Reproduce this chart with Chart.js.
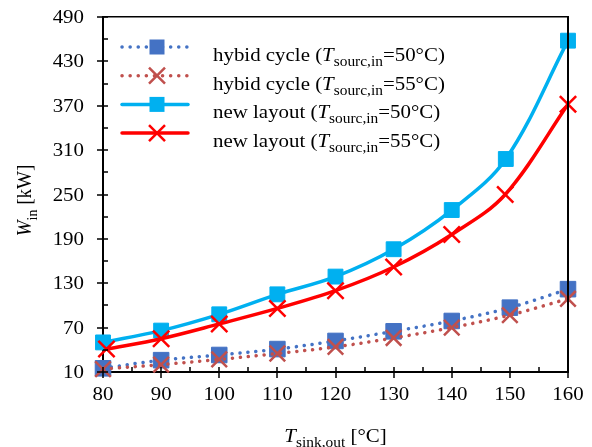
<!DOCTYPE html>
<html>
<head>
<meta charset="utf-8">
<script src="https://cdn.jsdelivr.net/npm/chart.js@4.4.0/dist/chart.umd.min.js"></script>
<style>
  html, body { margin: 0; padding: 0; background: #fff; }
  #wrap { width: 592px; height: 447px; }
</style>
</head>
<body>
<div id="wrap"><canvas id="chart"></canvas></div>
<script>
// data
const sinkTemps = [80, 90, 100, 110, 120, 130, 140, 150, 160];
const newTemps50 = [80, 90, 100, 110, 120, 130, 140, 149.3, 160];
const newTemps55 = [80.6, 90, 100, 110, 120, 130, 140, 149.2, 160];
const hybid50 = [15, 26, 33, 41, 52, 65, 79, 97, 122];
const hybid55 = [14, 20, 27, 35, 44, 56, 70, 87, 109];
const newLayout50 = [50, 66, 88, 115, 139, 176, 229, 298, 458];
const newLayout55 = [41, 55, 75, 96, 120, 152, 196, 250, 372];
const xTicks = [80, 90, 100, 110, 120, 130, 140, 150, 160];
const yTicks = [10, 70, 130, 190, 250, 310, 370, 430, 490];
const legendLabels = ['hybid cycle (', 'hybid cycle (', 'new layout (', 'new layout ('];
const legendTemps = ['=50°C)', '=55°C)', '=50°C)', '=55°C)'];

const FONT = '"Liberation Serif", "Times New Roman", serif';
const SIZE = 19, SUB = 14, SX = 1.1;

function pts(xs, ys) {
  return xs.map((x, i) => ({ x: x, y: ys[i] }));
}

function fontOf(p) {
  return (p.it ? 'italic ' : '') + (p.sub ? SUB : SIZE) + 'px ' + FONT;
}

// text with italic / subscript pieces, a bit wider than tall like the original
function drawRich(ctx, parts, x, y, align, rotate) {
  ctx.save();
  ctx.translate(x, y);
  if (rotate) { ctx.rotate(-Math.PI / 2); ctx.scale(1, SX); }
  else ctx.scale(SX, 1);
  let w = 0;
  parts.forEach(p => { ctx.font = fontOf(p); w += ctx.measureText(p.t).width; });
  let cx = align === 'center' ? -w / 2 : (align === 'right' ? -w : 0);
  ctx.fillStyle = '#000';
  ctx.textBaseline = 'alphabetic';
  ctx.textAlign = 'left';
  parts.forEach(p => {
    ctx.font = fontOf(p);
    ctx.fillText(p.t, cx, p.sub ? 5 : 0);
    cx += ctx.measureText(p.t).width;
  });
  ctx.restore();
}

function marker(ctx, style, x, y, color) {
  ctx.save();
  ctx.setLineDash([]);
  if (style === 'rect') {
    ctx.fillStyle = color;
    ctx.fillRect(x - 7.5, y - 7.5, 15, 15);
  } else {
    ctx.strokeStyle = color;
    ctx.lineWidth = 2.5;
    ctx.beginPath();
    ctx.moveTo(x - 8, y - 8); ctx.lineTo(x + 8, y + 8);
    ctx.moveTo(x + 8, y - 8); ctx.lineTo(x - 8, y + 8);
    ctx.stroke();
  }
  ctx.restore();
}

const decor = {
  id: 'decor',
  afterDraw(chart) {
    const ctx = chart.ctx;
    const a = chart.chartArea;
    const xs = chart.scales.x, ys = chart.scales.y;
    ctx.save();
    ctx.fillStyle = '#000';
    // top and right edges of the box
    ctx.fillRect(a.left, a.top - 1, a.right - a.left + 1, 1.5);
    ctx.fillRect(a.right - 1, a.top - 1, 2, a.bottom - a.top + 1);
    // major ticks cross the axis, minor ticks sit inside
    xTicks.forEach((v, i) => {
      const px = Math.round(xs.getPixelForValue(v));
      ctx.fillRect(px - 0.75, a.bottom - 5, 1.5, 11);
      if (i < xTicks.length - 1) {
        const mx = Math.round(xs.getPixelForValue(v + 5));
        ctx.fillRect(mx - 0.75, a.bottom - 5, 1.5, 5);
      }
    });
    yTicks.forEach((v, i) => {
      const py = Math.round(ys.getPixelForValue(v));
      ctx.fillRect(a.left - 6, py - 0.75, 11, 1.5);
      if (i < yTicks.length - 1) {
        const my = Math.round(ys.getPixelForValue(v + 30));
        ctx.fillRect(a.left, my - 0.75, 5, 1.5);
      }
    });
    ctx.restore();

    // tick labels
    xTicks.forEach(v => {
      drawRich(ctx, [{ t: String(v) }], xs.getPixelForValue(v), a.bottom + 28, 'center');
    });
    yTicks.forEach(v => {
      drawRich(ctx, [{ t: String(v) }], a.left - 19, ys.getPixelForValue(v) + 6, 'right');
    });

    // axis titles
    drawRich(ctx, [{ t: 'T', it: true }, { t: 'sink,out', sub: true }, { t: ' [°C]' }],
      (a.left + a.right) / 2, 442, 'center');
    drawRich(ctx, [{ t: 'W', it: true }, { t: 'in', sub: true }, { t: ' [kW]' }],
      31, (a.top + a.bottom) / 2 + 6, 'center', true);

    // legend
    chart.data.datasets.forEach((ds, i) => {
      const ly = 47 + i * 28.7;
      ctx.save();
      ctx.strokeStyle = ds.borderColor;
      ctx.lineWidth = ds.borderWidth;
      ctx.lineCap = 'round';
      ctx.setLineDash(ds.borderDash || []);
      ctx.beginPath();
      ctx.moveTo(122, ly); ctx.lineTo(188, ly);
      ctx.stroke();
      ctx.restore();
      marker(ctx, ds.pointStyle, 157, ly, ds.pointBackgroundColor);
      drawRich(ctx, [{ t: legendLabels[i] }, { t: 'T', it: true }, { t: 'sourc,in', sub: true }, { t: legendTemps[i] }],
        213, ly + 14, 'left');
    });
  }
};

const dotted = [0.1, 8];

const chart = new Chart(document.getElementById('chart'), {
  type: 'scatter',
  data: {
    datasets: [
      {
        label: 'hybid cycle 50',
        data: pts(sinkTemps, hybid50),
        showLine: true,
        clip: false,
        borderColor: '#4472C4',
        borderWidth: 3.5,
        borderDash: dotted,
        borderCapStyle: 'round',
        pointStyle: 'rect',
        pointRadius: 11,
        pointBackgroundColor: '#4472C4',
        pointBorderColor: '#4472C4',
        pointBorderWidth: 1,
        tension: 0.35,
        order: 2
      },
      {
        label: 'hybid cycle 55',
        data: pts(sinkTemps, hybid55),
        showLine: true,
        clip: false,
        borderColor: '#C0504D',
        borderWidth: 3.5,
        borderDash: dotted,
        borderCapStyle: 'round',
        pointStyle: 'crossRot',
        pointRadius: 11,
        pointBackgroundColor: '#C0504D',
        pointBorderColor: '#C0504D',
        pointBorderWidth: 2.5,
        tension: 0.35,
        order: 1
      },
      {
        label: 'new layout 50',
        data: pts(newTemps50, newLayout50),
        showLine: true,
        clip: false,
        borderColor: '#00B0F0',
        borderWidth: 3.5,
        pointStyle: 'rect',
        pointRadius: 10.5,
        pointBackgroundColor: '#00B0F0',
        pointBorderColor: '#00B0F0',
        pointBorderWidth: 1,
        tension: 0.35,
        order: 4
      },
      {
        label: 'new layout 55',
        data: pts(newTemps55, newLayout55),
        showLine: true,
        clip: false,
        borderColor: '#FF0000',
        borderWidth: 3.5,
        pointStyle: 'crossRot',
        pointRadius: 11.5,
        pointBackgroundColor: '#FF0000',
        pointBorderColor: '#FF0000',
        pointBorderWidth: 2.5,
        tension: 0.35,
        order: 3
      }
    ]
  },
  plugins: [decor],
  options: {
    responsive: true,
    maintainAspectRatio: false,
    animation: false,
    layout: { padding: { left: 103, right: 24, top: 17, bottom: 75 } },
    plugins: { legend: { display: false }, tooltip: { enabled: false } },
    scales: {
      x: {
        type: 'linear', min: 80, max: 160,
        ticks: { display: false, stepSize: 10 },
        grid: { display: false },
        border: { display: true, color: '#000', width: 2 },
        afterFit: s => { s.height = 0; }
      },
      y: {
        min: 10, max: 490,
        ticks: { display: false, stepSize: 60 },
        grid: { display: false },
        border: { display: true, color: '#000', width: 2 },
        afterFit: s => { s.width = 0; }
      }
    }
  }
});
</script>
</body>
</html>
